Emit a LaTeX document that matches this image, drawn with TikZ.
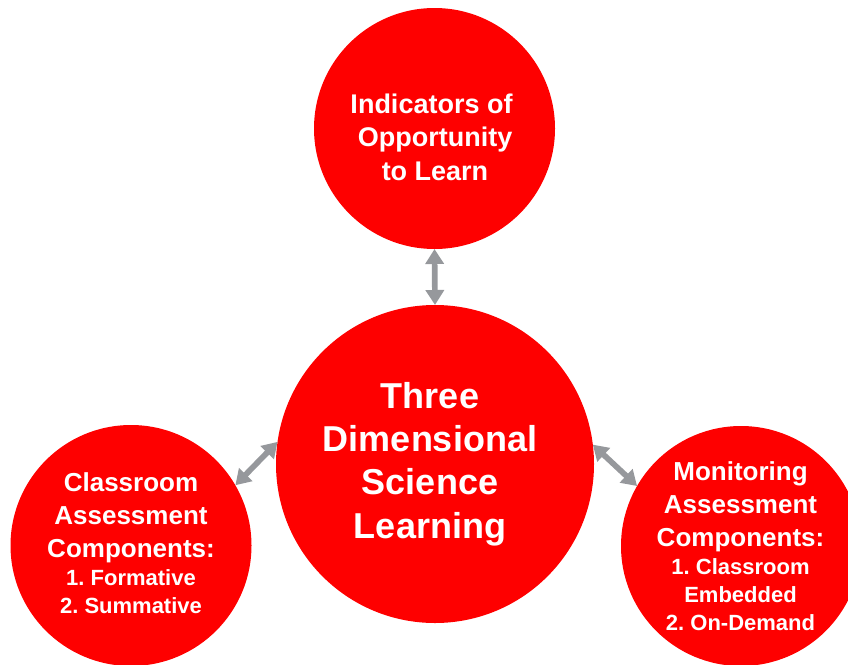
\documentclass[tikz,border=0pt]{standalone}
\usepackage{fontspec}
\setmainfont{Liberation Sans}
\usetikzlibrary{arrows.meta}
\definecolor{discred}{RGB}{254,0,0}
\definecolor{linkgray}{RGB}{150,152,156}
\newcommand\minorsize{\fontsize{22}{28}\selectfont}
\frenchspacing
\begin{document}
\begin{tikzpicture}[x=1pt,y=-1pt,
  disc/.style={circle,fill=discred,draw=none,inner sep=0pt,outer sep=0pt},
  labeltext/.style={text=white,align=center,inner sep=0pt},
  biarrow/.style={draw=linkgray,line width=5.7pt,
    {Triangle[width=18pt,length=15pt]}-{Triangle[width=18pt,length=15pt]}}
]
\useasboundingbox (0,0) rectangle (848,664);
\clip (0,0) rectangle (848,664);

% the four circles
\node[disc,minimum size=241pt] (top)   at (434.5,128.5) {};
\node[disc,minimum size=318pt] (mid)   at (435,464) {};
\node[disc,minimum size=241pt] (left)  at (131,545.5) {};
\node[disc,minimum size=240pt] (right) at (741,546) {};

% two-way links between the centre and the outer circles
\draw[biarrow] (top.south) -- (mid.north);
\draw[biarrow] (mid.172.5) -- (left.30);
\draw[biarrow] (mid.7.5) -- (right.150);

% circle texts
\node[labeltext,font=\bfseries\fontsize{27}{33.5}\selectfont] (toptext) at (435,137)
  {Indicators of\kern7pt\\Opportunity\\to Learn};
\node[labeltext,font=\bfseries\fontsize{36}{43.3}\selectfont] (midtext) at (430,464)
  {Three\\Dimensional\\Science\\Learning};
\node[labeltext,font=\bfseries\fontsize{26}{33}\selectfont] (lefttext) at (131,543.4)
  {Classroom\\Assessment\\Components:\\[-5pt]{\minorsize 1. Formative}\\[-5pt]{\minorsize 2. Summative}};
\node[labeltext,font=\bfseries\fontsize{26}{33}\selectfont] (righttext) at (740.5,546.5)
  {Monitoring\\Assessment\\Components:\\[-5pt]{\minorsize 1. Classroom}\\[-5pt]{\minorsize Embedded}\\[-5pt]{\minorsize 2. On-Demand}};
\end{tikzpicture}
\end{document}
